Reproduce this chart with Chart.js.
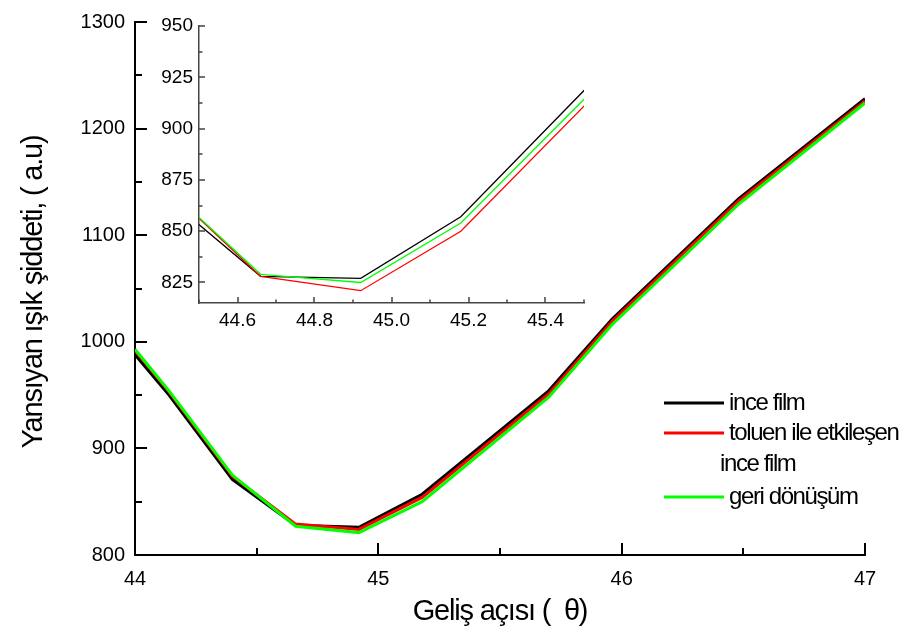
<!DOCTYPE html>
<html>
<head>
<meta charset="utf-8">
<script src="https://cdn.jsdelivr.net/npm/chart.js@4.4.1/dist/chart.umd.min.js"></script>
<style>
    body { margin: 0; background: #ffffff; }
    #wrap { position: relative; width: 920px; height: 641px; }
    #mainChart { position: absolute; left: 0; top: 0; }
    #insetChart { position: absolute; left: 140px; top: 0; }
</style>
</head>
<body>
<div id="wrap">
    <canvas id="mainChart" width="920" height="641"></canvas>
    <canvas id="insetChart" width="460" height="345"></canvas>
</div>
<script>
// incidence angle (degrees)
const angles = [44.0, 44.14, 44.40, 44.66, 44.92, 45.18, 45.70, 45.96, 46.48, 47.0];

// reflected intensity (a.u), main panel
const inceFilm = [988, 950, 871, 828, 826, 857, 954, 1021, 1134, 1228];
const toluenFilm = [992, 953, 874, 829, 824, 854, 951, 1019, 1132, 1226];
const geriDonusum = [993, 954, 875, 827, 821, 850, 948, 1016, 1129, 1224];

// reflected intensity (a.u), zoomed panel around the minimum
const insetInceFilm = [988, 950, 869, 828, 827, 857, 957, 1021, 1134, 1228];
const insetToluenFilm = [992, 953, 874, 828, 821, 850, 949, 1019, 1132, 1226];
const insetGeriDonusum = [993, 954, 874, 829, 825, 854, 952, 1016, 1129, 1224];

const mainXTicks = [44, 45, 46, 47];
const mainYTicks = [800, 900, 1000, 1100, 1200, 1300];
const insetXTicks = [44.6, 44.8, 45.0, 45.2, 45.4];
const insetYTicks = [825, 850, 875, 900, 925, 950];

const seriesNames = [['ince film'], ['toluen ile etkileşen', 'ince film'], ['geri dönüşüm']];
const seriesColors = ['#000000', '#ff0000', '#00ff00'];

const xTitle = 'Geliş açısı (  θ)';
const yTitle = 'Yansıyan ışık şiddeti, ( a.u)';

const FONT = "'Liberation Sans', Arial, sans-serif";

const toPoints = (values) => values.map((y, i) => ({ x: angles[i], y }));

const fixedTicks = (list) => (scale) => {
    scale.ticks = list.map((value) => ({ value }));
};

const halfSteps = (list) => list.slice(1).map((v, i) => (v + list[i]) / 2);

// inward tick marks, major on the labelled values and minor halfway between
const inwardTicks = {
    id: 'inwardTicks',
    afterDraw(chart, args, opts) {
        const { ctx, chartArea } = chart;
        const x = chart.scales.x;
        const y = chart.scales.y;
        ctx.save();
        ctx.strokeStyle = opts.color;
        ctx.lineWidth = opts.width;
        ctx.beginPath();
        opts.xMajor.forEach((v) => {
            const px = Math.round(x.getPixelForValue(v));
            ctx.moveTo(px, chartArea.bottom);
            ctx.lineTo(px, chartArea.bottom - opts.majorLen);
        });
        opts.xMinor.forEach((v) => {
            const px = Math.round(x.getPixelForValue(v));
            ctx.moveTo(px, chartArea.bottom);
            ctx.lineTo(px, chartArea.bottom - opts.minorLen);
        });
        opts.yMajor.forEach((v) => {
            const py = Math.round(y.getPixelForValue(v));
            ctx.moveTo(chartArea.left, py);
            ctx.lineTo(chartArea.left + opts.majorLen, py);
        });
        opts.yMinor.forEach((v) => {
            const py = Math.round(y.getPixelForValue(v));
            ctx.moveTo(chartArea.left, py);
            ctx.lineTo(chartArea.left + opts.minorLen, py);
        });
        ctx.stroke();
        ctx.restore();
    },
};

// axis titles and the legend block of the main panel
const annotations = {
    id: 'annotations',
    afterDraw(chart) {
        const { ctx } = chart;
        ctx.save();
        ctx.fillStyle = '#000000';
        ctx.textBaseline = 'middle';

        ctx.font = `29px ${FONT}`;
        ctx.letterSpacing = '-1.2px';
        ctx.textAlign = 'center';
        ctx.fillText(xTitle, 500, 612);

        ctx.save();
        ctx.translate(34, 292);
        ctx.rotate(-Math.PI / 2);
        ctx.fillText(yTitle, 0, 0);
        ctx.restore();

        ctx.textAlign = 'left';
        ctx.font = `24px ${FONT}`;
        ctx.letterSpacing = '-1.4px';
        const rows = [403, 433, 497];
        seriesNames.forEach((lines, i) => {
            const ly = rows[i];
            ctx.strokeStyle = seriesColors[i];
            ctx.lineWidth = 3;
            ctx.beginPath();
            ctx.moveTo(664, ly);
            ctx.lineTo(724, ly);
            ctx.stroke();
            lines.forEach((text, j) => {
                ctx.fillText(text, j === 0 ? 729 : 720, ly + j * 31);
            });
        });
        ctx.restore();
    },
};

const makeDatasets = (series, width) => series.map((values, i) => ({
    data: toPoints(values),
    borderColor: seriesColors[i],
    borderWidth: width,
    pointRadius: 0,
    tension: 0,
    fill: false,
    order: 2 - i,
}));

const plainLabel = (v) => String(v);

new Chart(document.getElementById('mainChart'), {
    type: 'line',
    data: { datasets: makeDatasets([inceFilm, toluenFilm, geriDonusum], 3) },
    options: {
        responsive: false,
        animation: false,
        events: [],
        layout: { padding: { top: 18, right: 55, left: 0, bottom: 0 } },
        plugins: {
            legend: { display: false },
            tooltip: { enabled: false },
            inwardTicks: {
                color: '#000000', width: 2, majorLen: 12, minorLen: 7,
                xMajor: mainXTicks, xMinor: halfSteps(mainXTicks),
                yMajor: mainYTicks, yMinor: halfSteps(mainYTicks),
            },
        },
        scales: {
            x: {
                type: 'linear', min: 44, max: 47,
                afterBuildTicks: fixedTicks(mainXTicks),
                afterFit: (scale) => { scale.height = 86; },
                grid: { display: false, drawTicks: false },
                border: { display: true, color: '#000000', width: 2 },
                ticks: { color: '#000000', padding: 12, font: { family: FONT, size: 20 }, callback: plainLabel },
            },
            y: {
                min: 800, max: 1300,
                afterBuildTicks: fixedTicks(mainYTicks),
                afterFit: (scale) => { scale.width = 135; },
                grid: { display: false, drawTicks: false },
                border: { display: true, color: '#000000', width: 2 },
                ticks: { color: '#000000', padding: 10, font: { family: FONT, size: 20 }, callback: plainLabel },
            },
        },
    },
    plugins: [inwardTicks, annotations],
});

new Chart(document.getElementById('insetChart'), {
    type: 'line',
    data: { datasets: makeDatasets([insetInceFilm, insetToluenFilm, insetGeriDonusum], 1.3) },
    options: {
        responsive: false,
        animation: false,
        events: [],
        layout: { padding: { top: 26, right: 16, left: 0, bottom: 0 } },
        plugins: {
            legend: { display: false },
            tooltip: { enabled: false },
            inwardTicks: {
                color: '#444444', width: 1.5, majorLen: 6, minorLen: 3.5,
                xMajor: insetXTicks, xMinor: [44.5, 44.7, 44.9, 45.1, 45.3, 45.5],
                yMajor: insetYTicks, yMinor: halfSteps(insetYTicks),
            },
        },
        scales: {
            x: {
                type: 'linear', min: 44.5, max: 45.5,
                afterBuildTicks: fixedTicks(insetXTicks),
                afterFit: (scale) => { scale.height = 42; },
                grid: { display: false, drawTicks: false },
                border: { display: true, color: '#444444', width: 1.5 },
                ticks: {
                    color: '#000000', padding: 6, font: { family: FONT, size: 19 },
                    callback: (v) => Number(v).toFixed(1),
                },
            },
            y: {
                min: 815, max: 950,
                afterBuildTicks: fixedTicks(insetYTicks),
                afterFit: (scale) => { scale.width = 59; },
                grid: { display: false, drawTicks: false },
                border: { display: true, color: '#444444', width: 1.5 },
                ticks: { color: '#000000', padding: 6, font: { family: FONT, size: 19 }, callback: plainLabel },
            },
        },
    },
    plugins: [inwardTicks],
});
</script>
</body>
</html>
